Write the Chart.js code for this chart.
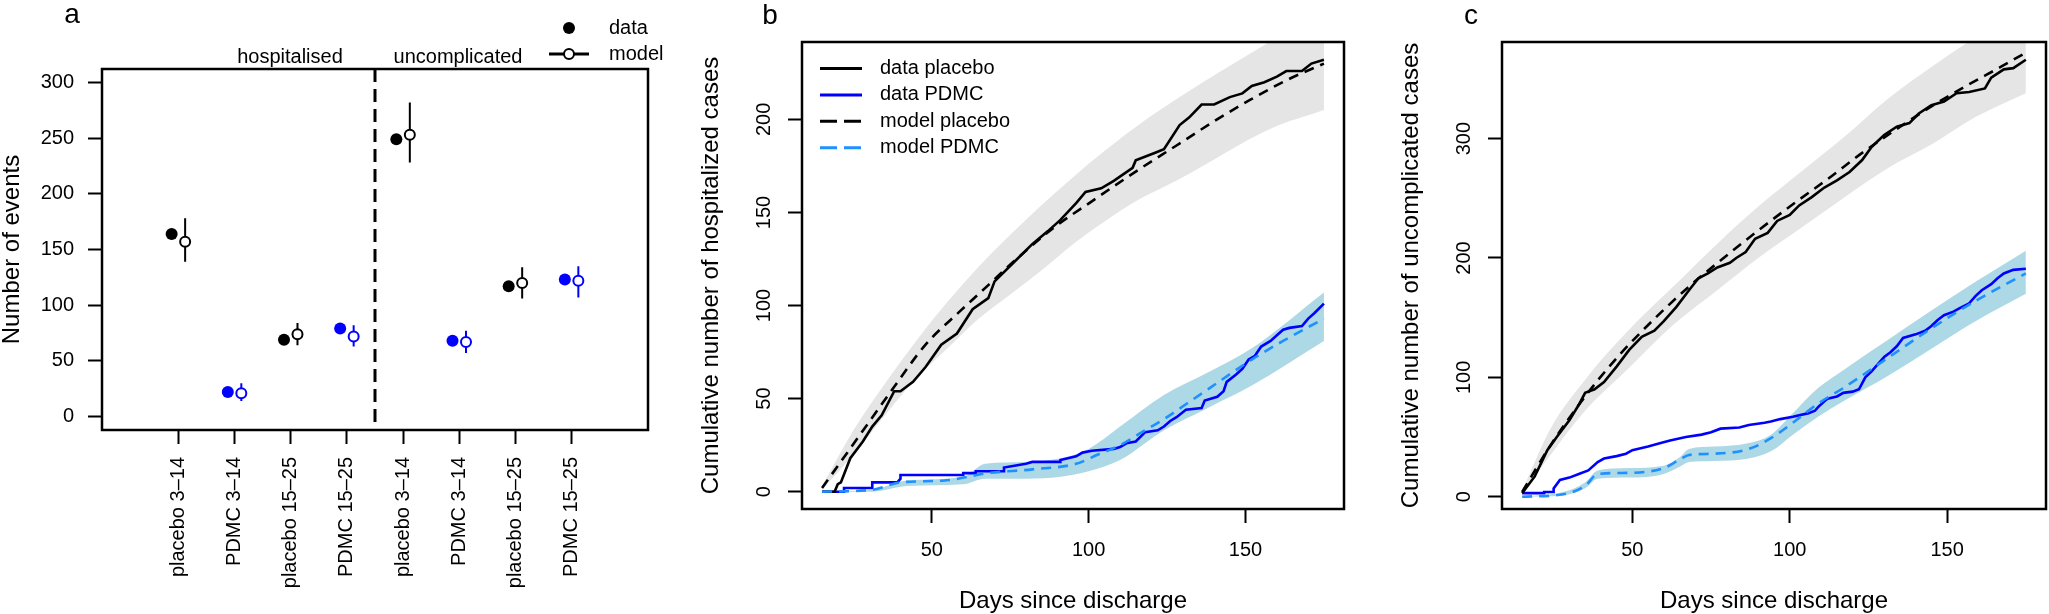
<!DOCTYPE html>
<html>
<head>
<meta charset="utf-8">
<title>Events and cumulative cases</title>
<script src="https://cdn.jsdelivr.net/npm/chart.js@4.4.1/dist/chart.umd.min.js"></script>
<style>
  body { margin: 0; background: #fff; }
  #wrap { position: relative; width: 2049px; height: 614px; }
  canvas { position: absolute; top: 0; }
</style>
</head>
<body>
<div id="wrap">
  <canvas id="chartA" width="683" height="614" style="left:0px"></canvas>
  <canvas id="chartB" width="683" height="614" style="left:683px"></canvas>
  <canvas id="chartC" width="683" height="614" style="left:1366px"></canvas>
</div>
<script>
// ---- panel a: number of events per group ----
var groups = ['placebo 3\u201314', 'PDMC 3\u201314', 'placebo 15\u201325', 'PDMC 15\u201325',
              'placebo 3\u201314', 'PDMC 3\u201314', 'placebo 15\u201325', 'PDMC 15\u201325'];
var observed  = [164, 22, 69, 79, 249, 68, 117, 123];
var modelMean = [157, 21, 74, 72, 253, 67, 120, 122];
var modelLow  = [139, 14, 64, 63, 228, 57, 106, 107];
var modelHigh = [178, 30, 84, 82, 282, 77, 134, 135];
var yTicksA = [0, 50, 100, 150, 200, 250, 300];
var sectionLabels = ['hospitalised', 'uncomplicated'];

// ---- panel b: hospitalised, cumulative ----
var placeboDaysB = [15,19,20,21,24,28,31,34,38,40,44,48,53,58,63,68,70,76,82,87,91,96,99,104,108,114,115,121,124,129,132,136,140,145,149,152,156,160,163,168,171,175];
var placeboCasesB = [0,0,4,5,18,27,35,41,54,54,59,67,79,85,98,104,113,123,133,140,146,155,161,163,167,174,178,182,184,197,201,208,208,212,214,218,220,223,226,226,230,232];
var pdmcDaysB = [15,22,22,31,31,39,40,40,60,60,64,64,73,73,80,82,91,91,96,98,101,108,110,112,115,118,122,124,126,128,131,136,137,141,143,144,147,149,151,153,155,158,160,162,164,168,170,172,175];
var pdmcCasesB = [0,0,2,2,5,5,7,9,9,10,10,11,11,13,15,16,16,17,19,21,22,23,24,26,27,32,33,35,38,40,44,45,49,51,54,59,63,66,71,73,78,81,84,87,88,89,93,96,101];
var modelPlaceboDaysB = [15,26,37,48,59,68,77,89,101,115,128,140,152,163,175];
var modelPlaceboB = [2,28,54,79,97,111,125,142,156,172,186,199,211,221,230];
var modelPdmcDaysB = [15,31,40,54,68,82,96,103,110,117,124,131,138,152,162,175];
var modelPdmcB = [0,1,5,6,10,12,15,20,25,32,39,47,55,71,81,93];
var greyBandDaysB = [15,25,35,45,55,65,75,85,95,105,115,129,158,175];
var greyBandHighB = [3,33,58,81,102,121,138,154,169,183,196,212,242,259];
var greyBandLowB = [1,20,41,61,77,93,106,119,133,145,156,168,195,205];
var blueBandDaysB = [15,31,42,60,67,80,91,100,110,124,138,152,175];
var blueBandHighB = [0,1,6,8,15,16,18,23,35,52,64,77,107];
var blueBandLowB = [0,0,3,4,7,7,8,11,17,33,45,57,81];
var yTicksB = [0, 50, 100, 150, 200];

// ---- panel c: uncomplicated, cumulative ----
var placeboDaysC = [15,19,23,26,30,33,35,38,41,45,49,53,57,60,64,68,71,74,77,81,83,86,89,93,96,100,103,107,111,115,119,123,126,130,134,138,141,145,149,153,157,162,164,168,171,175];
var placeboCasesC = [3,17,39,50,64,77,87,90,96,109,123,134,139,147,159,173,183,187,192,196,200,205,216,221,231,236,244,251,259,265,272,282,293,303,310,313,321,328,331,338,339,342,351,358,359,366];
var pdmcDaysC = [15,22,22,25,25,27,30,33,36,39,41,45,48,50,55,59,62,67,72,75,78,84,87,92,94,97,101,106,108,109,111,112,115,117,120,122,124,126,128,130,132,134,136,140,143,145,147,149,152,154,157,159,161,164,166,168,171,175];
var pdmcCasesC = [3,3,4,4,7,14,16,19,22,29,32,34,36,39,42,45,47,50,52,54,57,58,60,62,63,65,67,70,72,75,80,82,84,87,88,90,100,105,111,117,121,126,133,136,139,143,148,152,155,158,162,168,173,178,183,187,190,191];
var modelPlaceboDaysC = [15,24,35,46,57,68,79,90,101,112,123,134,145,156,167,175];
var modelPlaceboC = [4,43,84,119,149,176,200,223,245,266,288,308,327,344,360,372];
var modelPdmcDaysC = [15,28,35,39,49,60,65,68,76,87,94,101,109,117,131,145,159,175];
var modelPdmcC = [0,2,9,19,20,24,31,35,36,40,49,62,78,91,116,141,164,187];
var greyBandDaysC = [15,24,35,49,63,77,90,104,118,131,145,159,175];
var greyBandHighC = [5,57,98,140,176,212,243,273,303,333,360,385,413];
var greyBandLowC = [3,35,72,108,144,173,200,226,252,275,295,318,338];
var blueBandDaysC = [15,28,35,39,49,60,65,68,76,87,94,101,109,117,131,145,159,175];
var blueBandHighC = [0,4,12,22,24,26,33,40,42,45,52,70,91,106,131,156,180,206];
var blueBandLowC = [0,1,7,15,16,19,25,29,30,32,38,52,67,80,101,124,147,170];
var yTicksC = [0, 100, 200, 300];

var xTicksDays = [50, 100, 150];
var curveLegend = ['data placebo', 'data PDMC', 'model placebo', 'model PDMC'];

var family = "'Liberation Sans', Arial, Helvetica, sans-serif";
Chart.defaults.font.family = family;
Chart.defaults.font.size = 20;
Chart.defaults.color = '#000';
Chart.defaults.animation = false;
Chart.defaults.events = [];
Chart.defaults.plugins.legend.display = false;
Chart.defaults.plugins.tooltip.enabled = false;

var BLACK = '#000000', BLUE = '#0000ff', DODGER = '#1e90ff';
var GREY_BAND = '#e5e5e5', BLUE_BAND = '#add8e6';

function pts(days, vals) {
  return days.map(function (d, i) { return { x: d, y: vals[i] }; });
}
function fixTicks(values) {
  return function (scale) {
    scale.ticks = values.map(function (v) { return { value: v }; });
  };
}
function tickGrid() {
  return { drawOnChartArea: false, tickLength: 14, tickWidth: 2, tickColor: '#000' };
}

// box round the plot region, like R's box()
var boxPlugin = {
  id: 'box',
  afterDatasetsDraw: function (chart) {
    var a = chart.chartArea, ctx = chart.ctx;
    ctx.save();
    ctx.strokeStyle = '#000';
    ctx.lineWidth = 2.5;
    ctx.strokeRect(a.left, a.top, a.right - a.left, a.bottom - a.top);
    ctx.restore();
  }
};

// free text: panel letters, section headings
var notesPlugin = {
  id: 'notes',
  afterDraw: function (chart, args, opts) {
    var ctx = chart.ctx;
    (opts.items || []).forEach(function (it) {
      ctx.save();
      ctx.fillStyle = '#000';
      ctx.font = it.size + 'px ' + family;
      ctx.textAlign = it.align || 'center';
      ctx.textBaseline = it.baseline || 'alphabetic';
      ctx.fillText(it.text, it.x, it.y);
      ctx.restore();
    });
  }
};

// dashed separator between hospitalised and uncomplicated
var dividerPlugin = {
  id: 'divider',
  afterDatasetsDraw: function (chart, args, opts) {
    if (opts.at === undefined) return;
    var a = chart.chartArea, ctx = chart.ctx;
    var x = chart.scales.x.getPixelForValue(opts.at);
    ctx.save();
    ctx.strokeStyle = '#000';
    ctx.lineWidth = 3;
    ctx.setLineDash([13, 7]);
    ctx.beginPath();
    ctx.moveTo(x, a.top);
    ctx.lineTo(x, a.bottom);
    ctx.stroke();
    ctx.restore();
  }
};

// point legend of panel a
var pointLegendPlugin = {
  id: 'pointLegend',
  afterDraw: function (chart, args, opts) {
    if (!opts.labels) return;
    var ctx = chart.ctx;
    ctx.save();
    ctx.fillStyle = '#000';
    ctx.beginPath();
    ctx.arc(opts.x, opts.y, 6, 0, Math.PI * 2);
    ctx.fill();
    var y2 = opts.y + opts.step;
    ctx.strokeStyle = '#000';
    ctx.lineWidth = 3;
    ctx.beginPath();
    ctx.moveTo(opts.x - 20, y2);
    ctx.lineTo(opts.x + 20, y2);
    ctx.stroke();
    ctx.lineWidth = 2;
    ctx.fillStyle = '#fff';
    ctx.beginPath();
    ctx.arc(opts.x, y2, 5, 0, Math.PI * 2);
    ctx.fill();
    ctx.stroke();
    ctx.fillStyle = '#000';
    ctx.font = '20px ' + family;
    ctx.textAlign = 'left';
    ctx.textBaseline = 'middle';
    ctx.fillText(opts.labels[0], opts.textX, opts.y);
    ctx.fillText(opts.labels[1], opts.textX, y2);
    ctx.restore();
  }
};

// line legend of panel b
var lineLegendPlugin = {
  id: 'lineLegend',
  afterDraw: function (chart, args, opts) {
    if (!opts.items) return;
    var ctx = chart.ctx;
    opts.items.forEach(function (it, i) {
      var y = opts.y + i * opts.step;
      ctx.save();
      ctx.strokeStyle = it.color;
      ctx.lineWidth = 3;
      ctx.setLineDash(it.dash ? [17, 7] : []);
      ctx.beginPath();
      ctx.moveTo(opts.x, y);
      ctx.lineTo(opts.x + opts.len, y);
      ctx.stroke();
      ctx.setLineDash([]);
      ctx.fillStyle = '#000';
      ctx.font = '20px ' + family;
      ctx.textAlign = 'left';
      ctx.textBaseline = 'middle';
      ctx.fillText(it.label, opts.textX, y);
      ctx.restore();
    });
  }
};

// ---------- panel a ----------
var catPos = groups.map(function (g, i) { return i + 1; });
var shift = 0.12;
function colourOf(g) { return g.indexOf('placebo') === 0 ? BLACK : BLUE; }
var groupColours = groups.map(colourOf);

function errorBars(kind) {
  var out = [];
  groups.forEach(function (g, i) {
    if (g.indexOf(kind) !== 0) return;
    out.push({ x: catPos[i] + shift, y: modelLow[i] });
    out.push({ x: catPos[i] + shift, y: modelHigh[i] });
    out.push({ x: catPos[i] + shift, y: null });
  });
  return out;
}

new Chart(document.getElementById('chartA'), {
  type: 'line',
  data: {
    datasets: [
      {
        label: 'model',
        data: modelMean.map(function (v, i) { return { x: catPos[i] + shift, y: v }; }),
        showLine: false, order: 1,
        pointRadius: 5, pointBorderWidth: 2,
        pointBackgroundColor: '#fff', pointBorderColor: groupColours
      },
      {
        label: 'data',
        data: observed.map(function (v, i) { return { x: catPos[i] - shift, y: v }; }),
        showLine: false, order: 2,
        pointRadius: 6, pointBorderWidth: 0,
        pointBackgroundColor: groupColours, pointBorderColor: groupColours
      },
      {
        label: 'model interval placebo', data: errorBars('placebo'), order: 3,
        borderColor: BLACK, borderWidth: 2, pointRadius: 0, spanGaps: false
      },
      {
        label: 'model interval PDMC', data: errorBars('PDMC'), order: 3,
        borderColor: BLUE, borderWidth: 2, pointRadius: 0, spanGaps: false
      }
    ]
  },
  options: {
    responsive: false,
    layout: { padding: { left: 0, right: 35, top: 69, bottom: 0 } },
    scales: {
      x: {
        type: 'linear', min: -0.36, max: 9.36,
        afterBuildTicks: fixTicks(catPos),
        afterFit: function (s) { s.height = 184; },
        grid: tickGrid(), border: { display: false },
        ticks: {
          autoSkip: false, minRotation: 90, maxRotation: 90, padding: 13,
          callback: function (v) { return groups[v - 1]; }
        }
      },
      y: {
        type: 'linear', min: -12, max: 312,
        afterBuildTicks: fixTicks(yTicksA),
        afterFit: function (s) { s.width = 102; },
        grid: tickGrid(), border: { display: false },
        ticks: { padding: 14 },
        title: { display: true, text: 'Number of events', font: { size: 24, lineHeight: 1 }, padding: { top: 0, bottom: 0 } }
      }
    },
    plugins: {
      divider: { at: 4.5 },
      notes: { items: [
        { text: 'a', x: 72, y: 23, size: 28 },
        { text: sectionLabels[0], x: 290, y: 63, size: 20 },
        { text: sectionLabels[1], x: 458, y: 63, size: 20 }
      ] },
      pointLegend: { x: 569, y: 28, step: 26, textX: 609, labels: ['data', 'model'] }
    }
  },
  plugins: [boxPlugin, dividerPlugin, notesPlugin, pointLegendPlugin]
});

// ---------- panels b and c ----------
function curveChart(id, s) {
  var dashed = [10, 7];
  return new Chart(document.getElementById(id), {
    type: 'line',
    data: {
      datasets: [
        { label: 'placebo band low', data: pts(s.greyDays, s.greyLow), order: 4,
          borderWidth: 0, pointRadius: 0, fill: false, cubicInterpolationMode: 'monotone' },
        { label: 'placebo band high', data: pts(s.greyDays, s.greyHigh), order: 4,
          borderWidth: 0, pointRadius: 0, fill: '-1', backgroundColor: GREY_BAND, cubicInterpolationMode: 'monotone' },
        { label: 'PDMC band low', data: pts(s.blueDays, s.blueLow), order: 3,
          borderWidth: 0, pointRadius: 0, fill: false, cubicInterpolationMode: 'monotone' },
        { label: 'PDMC band high', data: pts(s.blueDays, s.blueHigh), order: 3,
          borderWidth: 0, pointRadius: 0, fill: '-1', backgroundColor: BLUE_BAND, cubicInterpolationMode: 'monotone' },
        { label: curveLegend[0], data: pts(s.placeboDays, s.placebo), order: 2,
          borderColor: BLACK, borderWidth: 2.6, pointRadius: 0, tension: 0 },
        { label: curveLegend[1], data: pts(s.pdmcDays, s.pdmc), order: 2,
          borderColor: BLUE, borderWidth: 2.6, pointRadius: 0, tension: 0 },
        { label: curveLegend[2], data: pts(s.modelPlaceboDays, s.modelPlacebo), order: 1,
          borderColor: BLACK, borderWidth: 2.6, borderDash: dashed, pointRadius: 0, cubicInterpolationMode: 'monotone' },
        { label: curveLegend[3], data: pts(s.modelPdmcDays, s.modelPdmc), order: 1,
          borderColor: DODGER, borderWidth: 2.6, borderDash: dashed, pointRadius: 0, cubicInterpolationMode: 'monotone' }
      ]
    },
    options: {
      responsive: false,
      layout: { padding: { left: 0, right: s.padRight, top: 42, bottom: 0 } },
      scales: {
        x: {
          type: 'linear', min: 8.6, max: 181.4,
          afterBuildTicks: fixTicks(xTicksDays),
          afterFit: function (sc) { sc.height = 105; },
          grid: tickGrid(), border: { display: false },
          ticks: { padding: 15, maxRotation: 0 },
          title: { display: true, text: 'Days since discharge', font: { size: 24, lineHeight: 1 }, padding: { top: 0, bottom: 1 } }
        },
        y: {
          type: 'linear', min: s.yMin, max: s.yMax,
          afterBuildTicks: fixTicks(s.yTicks),
          afterFit: function (sc) { sc.width = s.yWidth; },
          grid: tickGrid(), border: { display: false },
          ticks: { minRotation: 90, maxRotation: 90, crossAlign: 'center', padding: 7 },
          title: { display: true, text: s.title, font: { size: 24, lineHeight: 1 }, padding: { top: s.titlePad, bottom: 0 } }
        }
      },
      plugins: {
        notes: { items: [{ text: s.letter, x: s.letterX, y: 24, size: 28 }] },
        lineLegend: s.legend ? {
          x: 137, len: 42, textX: 197, y: 68.5, step: 26.4,
          items: [
            { label: curveLegend[0], color: BLACK },
            { label: curveLegend[1], color: BLUE },
            { label: curveLegend[2], color: BLACK, dash: true },
            { label: curveLegend[3], color: DODGER, dash: true }
          ]
        } : {}
      }
    },
    plugins: [boxPlugin, notesPlugin, lineLegendPlugin]
  });
}

curveChart('chartB', {
  greyDays: greyBandDaysB, greyLow: greyBandLowB, greyHigh: greyBandHighB,
  blueDays: blueBandDaysB, blueLow: blueBandLowB, blueHigh: blueBandHighB,
  placeboDays: placeboDaysB, placebo: placeboCasesB,
  pdmcDays: pdmcDaysB, pdmc: pdmcCasesB,
  modelPlaceboDays: modelPlaceboDaysB, modelPlacebo: modelPlaceboB,
  modelPdmcDays: modelPdmcDaysB, modelPdmc: modelPdmcB,
  yMin: -9.3, yMax: 241.6, yTicks: yTicksB, yWidth: 119, padRight: 22,
  title: 'Cumulative number of hospitalized cases', titlePad: 16,
  letter: 'b', letterX: 87, legend: true
});

curveChart('chartC', {
  greyDays: greyBandDaysC, greyLow: greyBandLowC, greyHigh: greyBandHighC,
  blueDays: blueBandDaysC, blueLow: blueBandLowC, blueHigh: blueBandHighC,
  placeboDays: placeboDaysC, placebo: placeboCasesC,
  pdmcDays: pdmcDaysC, pdmc: pdmcCasesC,
  modelPlaceboDays: modelPlaceboDaysC, modelPlacebo: modelPlaceboC,
  modelPdmcDays: modelPdmcDaysC, modelPdmc: modelPdmcC,
  yMin: -10.3, yMax: 380.9, yTicks: yTicksC, yWidth: 136, padRight: 3,
  title: 'Cumulative number of uncomplicated cases', titlePad: 33,
  letter: 'c', letterX: 105, legend: false
});
</script>
</body>
</html>
